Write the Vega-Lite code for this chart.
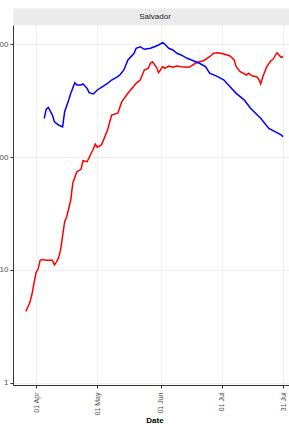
{
  "$schema": "https://vega.github.io/schema/vega-lite/v6.json",
  "width": 283,
  "height": 360,
  "autosize": {"type": "none"},
  "padding": {"left": 13, "top": 25, "right": -7, "bottom": 39},
  "background": "white",
  "config": {"view": {"stroke": null}, "font": "Liberation Sans"},
  "datasets": {
    "red": [
      {"date": "2020-03-27", "value": 4.3},
      {"date": "2020-03-28", "value": 4.7},
      {"date": "2020-03-29", "value": 5.2},
      {"date": "2020-03-30", "value": 6.1},
      {"date": "2020-03-31", "value": 7.7},
      {"date": "2020-04-01", "value": 9.5},
      {"date": "2020-04-02", "value": 10.2},
      {"date": "2020-04-03", "value": 12.2},
      {"date": "2020-04-04", "value": 12.4},
      {"date": "2020-04-06", "value": 12.2},
      {"date": "2020-04-09", "value": 12.2},
      {"date": "2020-04-10", "value": 11.1},
      {"date": "2020-04-11", "value": 11.8},
      {"date": "2020-04-12", "value": 12.8},
      {"date": "2020-04-13", "value": 15},
      {"date": "2020-04-15", "value": 26.8},
      {"date": "2020-04-16", "value": 29.6},
      {"date": "2020-04-18", "value": 41.6},
      {"date": "2020-04-19", "value": 58.9},
      {"date": "2020-04-21", "value": 74.1},
      {"date": "2020-04-23", "value": 77.8},
      {"date": "2020-04-24", "value": 92.7},
      {"date": "2020-04-26", "value": 90.8},
      {"date": "2020-04-28", "value": 107.9},
      {"date": "2020-04-29", "value": 117},
      {"date": "2020-04-30", "value": 130},
      {"date": "2020-05-01", "value": 122},
      {"date": "2020-05-03", "value": 128},
      {"date": "2020-05-04", "value": 141},
      {"date": "2020-05-06", "value": 173},
      {"date": "2020-05-08", "value": 235},
      {"date": "2020-05-11", "value": 244},
      {"date": "2020-05-13", "value": 309},
      {"date": "2020-05-16", "value": 366},
      {"date": "2020-05-20", "value": 449},
      {"date": "2020-05-22", "value": 480},
      {"date": "2020-05-24", "value": 589},
      {"date": "2020-05-26", "value": 610},
      {"date": "2020-05-27", "value": 675},
      {"date": "2020-05-28", "value": 697},
      {"date": "2020-05-30", "value": 622},
      {"date": "2020-05-31", "value": 557},
      {"date": "2020-06-02", "value": 630},
      {"date": "2020-06-03", "value": 610},
      {"date": "2020-06-05", "value": 639},
      {"date": "2020-06-07", "value": 622},
      {"date": "2020-06-09", "value": 639},
      {"date": "2020-06-11", "value": 630},
      {"date": "2020-06-15", "value": 622},
      {"date": "2020-06-18", "value": 675},
      {"date": "2020-06-20", "value": 697},
      {"date": "2020-06-22", "value": 711},
      {"date": "2020-06-25", "value": 772},
      {"date": "2020-06-27", "value": 828},
      {"date": "2020-06-29", "value": 838},
      {"date": "2020-07-02", "value": 816},
      {"date": "2020-07-05", "value": 783},
      {"date": "2020-07-07", "value": 722},
      {"date": "2020-07-08", "value": 630},
      {"date": "2020-07-10", "value": 569},
      {"date": "2020-07-13", "value": 532},
      {"date": "2020-07-14", "value": 551},
      {"date": "2020-07-16", "value": 521},
      {"date": "2020-07-18", "value": 514},
      {"date": "2020-07-19", "value": 490},
      {"date": "2020-07-20", "value": 443},
      {"date": "2020-07-21", "value": 510},
      {"date": "2020-07-23", "value": 630},
      {"date": "2020-07-25", "value": 711},
      {"date": "2020-07-26", "value": 732},
      {"date": "2020-07-28", "value": 838},
      {"date": "2020-07-29", "value": 800},
      {"date": "2020-07-30", "value": 763},
      {"date": "2020-07-31", "value": 772}
    ],
    "blue": [
      {"date": "2020-04-05", "value": 220},
      {"date": "2020-04-06", "value": 265},
      {"date": "2020-04-07", "value": 275},
      {"date": "2020-04-09", "value": 235},
      {"date": "2020-04-10", "value": 205},
      {"date": "2020-04-12", "value": 192},
      {"date": "2020-04-14", "value": 185},
      {"date": "2020-04-15", "value": 252},
      {"date": "2020-04-17", "value": 319},
      {"date": "2020-04-18", "value": 366},
      {"date": "2020-04-20", "value": 455},
      {"date": "2020-04-21", "value": 434},
      {"date": "2020-04-23", "value": 434},
      {"date": "2020-04-24", "value": 443},
      {"date": "2020-04-26", "value": 405},
      {"date": "2020-04-27", "value": 371},
      {"date": "2020-04-29", "value": 361},
      {"date": "2020-05-01", "value": 392},
      {"date": "2020-05-03", "value": 414},
      {"date": "2020-05-06", "value": 449},
      {"date": "2020-05-08", "value": 480},
      {"date": "2020-05-11", "value": 514},
      {"date": "2020-05-12", "value": 532},
      {"date": "2020-05-14", "value": 589},
      {"date": "2020-05-16", "value": 722},
      {"date": "2020-05-19", "value": 828},
      {"date": "2020-05-20", "value": 916},
      {"date": "2020-05-22", "value": 946},
      {"date": "2020-05-24", "value": 898},
      {"date": "2020-05-27", "value": 916},
      {"date": "2020-05-29", "value": 946},
      {"date": "2020-05-31", "value": 980},
      {"date": "2020-06-02", "value": 1027},
      {"date": "2020-06-03", "value": 1000},
      {"date": "2020-06-05", "value": 916},
      {"date": "2020-06-07", "value": 885},
      {"date": "2020-06-09", "value": 828},
      {"date": "2020-06-11", "value": 800},
      {"date": "2020-06-14", "value": 747},
      {"date": "2020-06-17", "value": 711},
      {"date": "2020-06-20", "value": 675},
      {"date": "2020-06-23", "value": 630},
      {"date": "2020-06-25", "value": 551},
      {"date": "2020-06-29", "value": 514},
      {"date": "2020-07-02", "value": 480},
      {"date": "2020-07-05", "value": 419},
      {"date": "2020-07-08", "value": 366},
      {"date": "2020-07-12", "value": 319},
      {"date": "2020-07-15", "value": 270},
      {"date": "2020-07-20", "value": 220},
      {"date": "2020-07-24", "value": 179},
      {"date": "2020-07-27", "value": 168},
      {"date": "2020-07-30", "value": 157},
      {"date": "2020-07-31", "value": 151}
    ]
  },
  "layer": [
    {
      "data": {"name": "red"},
      "mark": {"type": "line", "color": "#FF0000", "strokeWidth": 1.5, "clip": true},
      "encoding": {
        "x": {
          "field": "date", "type": "temporal",
          "scale": {"type": "utc", "nice": false, "domain": [
            {"year": 2020, "month": 3, "date": 20, "hours": 17, "utc": true},
            {"year": 2020, "month": 8, "date": 6, "hours": 7, "utc": true}
          ]},
          "axis": {
            "orient": "bottom",
            "values": [
              {"year": 2020, "month": 4, "date": 1, "utc": true},
              {"year": 2020, "month": 5, "date": 1, "utc": true},
              {"year": 2020, "month": 6, "date": 1, "utc": true},
              {"year": 2020, "month": 7, "date": 1, "utc": true},
              {"year": 2020, "month": 7, "date": 31, "utc": true}
            ],
            "format": "%d %b",
            "labelAngle": 270,
            "labelFontSize": 7,
            "labelColor": "#4d4d4d",
            "labelPadding": 4,
            "tickColor": "#333333",
            "tickSize": 3,
            "domainColor": "#333333",
            "domainWidth": 1,
            "grid": true,
            "gridColor": "#ebebeb",
            "gridWidth": 0.8,
            "title": "Date",
            "titleFontSize": 8,
            "titleFontWeight": "bold",
            "titleColor": "#000000",
            "titlePadding": 2
          }
        },
        "y": {
          "field": "value", "type": "quantitative",
          "scale": {"type": "log", "domain": [0.96, 1473], "nice": false},
          "axis": {
            "values": [1, 10, 100, 1000],
            "format": "d",
            "labelFontSize": 8,
            "labelColor": "#4d4d4d",
            "labelPadding": 2,
            "tickColor": "#333333",
            "tickSize": 3,
            "domainColor": "#333333",
            "domainWidth": 1,
            "grid": true,
            "gridColor": "#ebebeb",
            "gridWidth": 0.8,
            "title": null
          }
        }
      }
    },
    {
      "data": {"name": "blue"},
      "mark": {"type": "line", "color": "#0000FF", "strokeWidth": 1.5, "clip": true},
      "encoding": {
        "x": {
          "field": "date", "type": "temporal",
          "axis": {
            "orient": "top",
            "domain": true,
            "domainColor": "#ebebeb",
            "domainWidth": 17,
            "offset": 8.5,
            "ticks": false,
            "labels": false,
            "grid": false,
            "title": "Salvador",
            "titleFontSize": 8,
            "titleFontWeight": "normal",
            "titleColor": "#1a1a1a",
            "titleBaseline": "middle",
            "titleY": 0
          }
        },
        "y": {"field": "value", "type": "quantitative"}
      }
    }
  ],
  "resolve": {"axis": {"x": "independent"}}
}
